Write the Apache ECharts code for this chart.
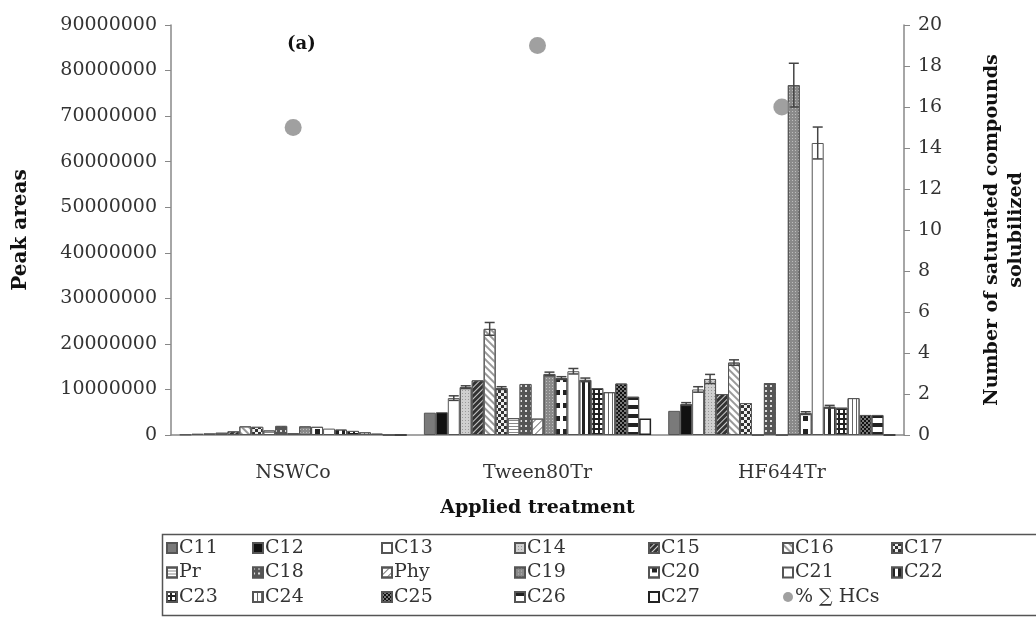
<!DOCTYPE html>
<html>
<head>
<meta charset="utf-8">
<script src="https://cdn.jsdelivr.net/npm/echarts@6/dist/echarts.min.js"></script>
<style>html,body{margin:0;padding:0;background:#fff}#c{width:1036px;height:628px}</style>
</head>
<body>
<div id="c"></div>
<script>
// ---- data ----
const categories = ['NSWCo', 'Tween80Tr', 'HF644Tr'];
const compounds = ['C11','C12','C13','C14','C15','C16','C17','Pr','C18','Phy','C19','C20','C21','C22','C23','C24','C25','C26','C27'];
const M = 1000000;
// peak areas (millions) per compound, for each treatment
const nswcoValues = [0.1,0.3,0.4,0.5,0.8,1.9,1.8,1.0,2.0,0.4,1.9,1.8,1.4,1.2,0.9,0.6,0.3,0,0];
const tweenValues = [4.9,5.0,8.1,10.5,12.0,23.3,10.3,3.7,11.2,3.6,13.4,12.5,14.0,12.1,10.3,9.4,11.3,8.4,3.6];
const hfValues    = [5.3,6.8,10.0,12.3,9.0,15.9,7.0,0,11.4,0,76.8,4.8,64.1,6.2,6.0,8.1,4.4,4.4,0];
// error (millions)
const nswcoErr = [0,0,0,0,0,0,0,0,0,0,0,0,0,0,0,0,0,0,0];
const tweenErr = [0,0,0.5,0.3,0,1.4,0.3,0,0,0,0.4,0.3,0.6,0.4,0,0,0,0,0];
const hfErr    = [0,0.3,0.6,1.0,0,0.6,0,0,0,0,4.8,0.3,3.5,0.3,0,0,0,0,0];
// number of saturated compounds solubilized (% ∑ HCs)
const hcsName = '% ∑ HCs';
const hcsValues = [15, 19, 16];
const leftTicks = {min:0, max:90000000, interval:10000000};
const rightTicks = {min:0, max:20, interval:2};

// ---- styles ----
const serif = 'DejaVu Serif';
const styles = {
  C11:{color:'#7a7a7a'},
  C12:{color:'#111'},
  C13:{color:'#fff'},
  C14:{color:'#cfcfcf', decal:{symbol:'rect',color:'#999',dashArrayX:[1,2],dashArrayY:[1,2],symbolSize:1}},
  C15:{color:'#333', decal:{symbol:'rect',color:'#ccc',dashArrayX:[1,0],dashArrayY:[1,3],rotation:-Math.PI/4}},
  C16:{color:'#fff', decal:{symbol:'rect',color:'#999',dashArrayX:[1,0],dashArrayY:[2,3],rotation:Math.PI/4}},
  C17:{color:'#333', decal:{symbol:'rect',color:'#eee',dashArrayX:[[3,3],[0,3,3,0]],dashArrayY:[3,0],symbolSize:1}},
  Pr:{color:'#fff', decal:{symbol:'rect',color:'#888',dashArrayX:[1,0],dashArrayY:[1,2]}},
  C18:{color:'#555', decal:{symbol:'rect',color:'#ddd',dashArrayX:[2,3],dashArrayY:[2,3],symbolSize:1}},
  Phy:{color:'#fff', decal:{symbol:'rect',color:'#777',dashArrayX:[1,0],dashArrayY:[1,4],rotation:-Math.PI/4}},
  C19:{color:'#8a8a8a', decal:{symbol:'rect',color:'#bdbdbd',dashArrayX:[1,2],dashArrayY:[1,2],symbolSize:1}},
  C20:{color:'#fff', decal:{symbol:'rect',color:'#222',dashArrayX:[[0,3,5,0]],dashArrayY:[5,8],symbolSize:1}},
  C21:{color:'#fff'},
  C22:{color:'#fff', decal:{symbol:'rect',color:'#222',dashArrayX:[3,3],dashArrayY:[1,0],symbolSize:1}},
  C23:{color:'#222', decal:{symbol:'rect',color:'#fff',dashArrayX:[3,2],dashArrayY:[3,2],symbolSize:1}},
  C24:{color:'#fff', decal:{symbol:'rect',color:'#666',dashArrayX:[1,3],dashArrayY:[1,0],symbolSize:1}},
  C25:{color:'#111', decal:{symbol:'rect',color:'#777',dashArrayX:[[2,2],[0,2,2,0]],dashArrayY:[2,0],symbolSize:1}},
  C26:{color:'#fff', decal:{symbol:'rect',color:'#222',dashArrayX:[1,0],dashArrayY:[4,5]}},
  C27:{color:'#fff'}
};

const series = compounds.map((name, i) => ({
  name: name,
  type: 'bar',
  barGap: '0%',
  barCategoryGap: '7%',
  itemStyle: Object.assign({borderColor: name==='C27' ? '#222' : '#555', borderWidth: name==='C27' ? 1.5 : 1}, styles[name]),
  data: [nswcoValues[i]*M, tweenValues[i]*M, hfValues[i]*M],
  z: 2
}));

const errData = [];
[[nswcoValues,nswcoErr],[tweenValues,tweenErr],[hfValues,hfErr]].forEach(([vals, errs], c) => {
  errs.forEach((e, s) => { if (e > 0) errData.push([c, s, (vals[s]-e)*M, (vals[s]+e)*M]); });
});

series.push({
  name: 'err',
  type: 'custom',
  z: 5,
  silent: true,
  renderItem: function (params, api) {
    const c = api.value(0), s = api.value(1);
    const band = api.size([1, 0])[0];
    const groupW = band * 0.93;
    const bw = groupW / compounds.length;
    const cx = api.coord([c, 0])[0] - groupW / 2 + bw * (s + 0.5);
    const yl = api.coord([c, api.value(2)])[1];
    const yh = api.coord([c, api.value(3)])[1];
    const st = {stroke: '#444', lineWidth: 1.5};
    return {type: 'group', children: [
      {type: 'line', shape: {x1: cx, y1: yl, x2: cx, y2: yh}, style: st},
      {type: 'line', shape: {x1: cx - 5, y1: yh, x2: cx + 5, y2: yh}, style: st},
      {type: 'line', shape: {x1: cx - 5, y1: yl, x2: cx + 5, y2: yl}, style: st}
    ]};
  },
  data: errData
});

series.push({
  name: hcsName,
  type: 'scatter',
  yAxisIndex: 1,
  symbolSize: 17,
  itemStyle: {color: '#888'},
  data: hcsValues,
  z: 6
});

const legendCols = [
  ['C11','Pr','C23'],
  ['C12','C18','C24'],
  ['C13','Phy','C25'],
  ['C14','C19','C26'],
  ['C15','C20','C27'],
  ['C16','C21',hcsName],
  ['C17','C22']
];
const legendX = [166, 252, 381, 514, 648, 782, 891];
const legends = legendCols.map((col, i) => ({
  orient: 'vertical',
  left: legendX[i],
  top: 538,
  padding: 0,
  itemWidth: 10,
  itemHeight: 10,
  itemGap: 4.5,
  selectedMode: false,
  icon: 'rect',
  textStyle: {fontFamily: serif, fontSize: 19, color: '#333', lineHeight: 20, padding: [0,0,0,-3]},
  data: col.map(n => n === hcsName ? {name: n, icon: 'circle'} : n)
}));

const axisLabelStyle = {fontFamily: serif, fontSize: 19, color: '#333'};
const plain = v => String(v);
const option = {
  animation: false,
  backgroundColor: '#fff',
  title: {text: '(a)', left: 287, top: 35, padding: 0, textStyle: {fontFamily: serif, fontWeight: 'bold', fontSize: 18, color: '#111'}},
  grid: {left: 171, right: 127, top: 25, bottom: 193},
  legend: legends,
  graphic: [{type: 'rect', left: 160, top: 532, shape: {width: 900, height: 81}, style: {fill: 'none', stroke: '#555', lineWidth: 1.5}, z: -1}],
  xAxis: {
    type: 'category', data: categories,
    axisLine: {lineStyle: {color: '#888', width: 1.5}},
    axisTick: {length: 6, lineStyle: {color: '#888'}},
    axisLabel: Object.assign({margin: 29}, axisLabelStyle),
    name: 'Applied treatment', nameLocation: 'middle', nameGap: 64,
    nameTextStyle: {fontFamily: serif, fontWeight: 'bold', fontSize: 19, color: '#111'}
  },
  yAxis: [
    Object.assign({
      type: 'value', position: 'left',
      splitLine: {show: false},
      axisLine: {show: true, lineStyle: {color: '#888', width: 1.5}},
      axisTick: {show: true, length: 6, lineStyle: {color: '#888'}},
      axisLabel: Object.assign({margin: 14, formatter: plain}, axisLabelStyle),
      name: 'Peak areas', nameLocation: 'middle', nameGap: 140, nameRotate: 90,
      nameTextStyle: {fontFamily: serif, fontWeight: 'bold', fontSize: 20, color: '#111'}
    }, leftTicks),
    Object.assign({
      type: 'value', position: 'right',
      splitLine: {show: false},
      axisLine: {show: true, lineStyle: {color: '#888', width: 1.5}},
      axisTick: {show: true, length: 6, lineStyle: {color: '#888'}},
      axisLabel: Object.assign({margin: 14, formatter: plain}, axisLabelStyle),
      name: 'Number of saturated compounds\nsolubilized', nameLocation: 'middle', nameGap: 76, nameRotate: 90,
      nameTextStyle: {fontFamily: serif, fontWeight: 'bold', fontSize: 19, color: '#111', lineHeight: 24, align: 'center'}
    }, rightTicks)
  ],
  series: series
};
const chart = echarts.init(document.getElementById('c'), null, {renderer: 'canvas'});
chart.setOption(option);
</script>
</body>
</html>
